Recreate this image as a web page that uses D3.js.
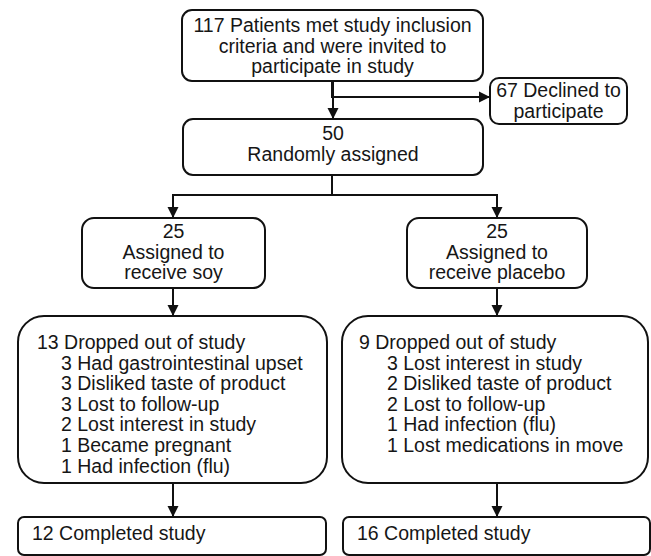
<!DOCTYPE html>
<html>
<head>
<meta charset="utf-8">
<script src="https://cdn.jsdelivr.net/npm/d3@7"></script>
<style>
  body { margin: 0; background: #fff; }
  svg text { font-family: "Liberation Sans", Arial, sans-serif; font-size: 19.5px; fill: #161616; }
</style>
</head>
<body>
<svg id="flow" width="651" height="556"></svg>
<script>
// Flow data: one entry per box
const nodeIds = ["invited", "declined", "random", "soy", "placebo", "dropSoy", "dropPlacebo", "doneSoy", "donePlacebo"];
const nodeCounts = [117, 67, 50, 25, 25, 13, 9, 12, 16];
const nodeLabels = [
  ["Patients met study inclusion", "criteria and were invited to", "participate in study"],
  ["Declined to", "participate"],
  ["", "Randomly assigned"],
  ["", "Assigned to", "receive soy"],
  ["", "Assigned to", "receive placebo"],
  ["Dropped out of study"],
  ["Dropped out of study"],
  ["Completed study"],
  ["Completed study"]
];

// Reasons for dropping out
const soyReasonCounts = [3, 3, 3, 2, 1, 1];
const soyReasons = ["Had gastrointestinal upset", "Disliked taste of product", "Lost to follow-up",
                    "Lost interest in study", "Became pregnant", "Had infection (flu)"];
const placeboReasonCounts = [3, 2, 2, 1, 1];
const placeboReasons = ["Lost interest in study", "Disliked taste of product", "Lost to follow-up",
                        "Had infection (flu)", "Lost medications in move"];

// Links between boxes
const linkFrom = ["invited", "invited", "random", "random", "soy", "placebo", "dropSoy", "dropPlacebo"];
const linkTo   = ["random", "declined", "soy", "placebo", "dropSoy", "dropPlacebo", "doneSoy", "donePlacebo"];

// Layout (page pixels) kept apart from the data
const layout = {
  invited:     {x0: 182, y0: 10,  x1: 483, y1: 81,  r: 10, align: "middle", ty: 32},
  declined:    {x0: 490, y0: 78,  x1: 627, y1: 124, r: 9,  align: "middle", ty: 97},
  random:      {x0: 183, y0: 119, x1: 483, y1: 175, r: 10, align: "middle", ty: 140},
  soy:         {x0: 82,  y0: 218, x1: 265, y1: 288, r: 12, align: "middle", ty: 238},
  placebo:     {x0: 407, y0: 218, x1: 587, y1: 288, r: 12, align: "middle", ty: 238},
  dropSoy:     {x0: 18,  y0: 316, x1: 327, y1: 483, r: 26, align: "start", tx: 37, ty: 349, indent: 24},
  dropPlacebo: {x0: 342, y0: 316, x1: 648, y1: 483, r: 26, align: "start", tx: 359, ty: 349, indent: 28},
  doneSoy:     {x0: 18,  y0: 517, x1: 326, y1: 555, r: 6,  align: "start", tx: 32, ty: 540},
  donePlacebo: {x0: 343, y0: 517, x1: 650, y1: 555, r: 6,  align: "start", tx: 357, ty: 540}
};
const lineH = 20.6;

const svg = d3.select("#flow");
const nodes = nodeIds.map((id, i) => ({id, count: nodeCounts[i], label: nodeLabels[i], box: layout[id]}));
const byId = new Map(nodes.map(n => [n.id, n]));

// build text lines for each box (count goes in front, or alone on the first line)
nodes.forEach(n => {
  const lines = n.label.slice();
  lines[0] = lines[0] === "" ? String(n.count) : n.count + " " + lines[0];
  n.lines = lines.map(t => ({text: t, indent: 0}));
});
byId.get("dropSoy").lines.push(...soyReasons.map((t, i) => ({text: soyReasonCounts[i] + " " + t, indent: 1})));
byId.get("dropPlacebo").lines.push(...placeboReasons.map((t, i) => ({text: placeboReasonCounts[i] + " " + t, indent: 1})));

// connectors
const links = linkFrom.map((f, i) => ({source: byId.get(f), target: byId.get(linkTo[i])}));
const midX = b => (b.x0 + b.x1) / 2;

function linkPoints(l) {
  const s = l.source.box, t = l.target.box;
  if (l.target.id === "declined") {
    const x = midX(s) - 0.5, y = s.y1 + 16;
    return [[x, s.y1], [x, y], [t.x0, y]];
  }
  if (l.source.id === "random") {
    const x = midX(s) - 1, y = s.y1 + 20;
    const tx = l.target.id === "soy" ? 173 : 497;
    return [[x, s.y1], [x, y], [tx, y], [tx, t.y0]];
  }
  const x = l.target.id === "random" ? 333 : (s.x0 < 200 ? 173 : 497);
  return [[x, s.y1], [x, t.y0]];
}

svg.append("g")
  .selectAll("path")
  .data(links)
  .join("path")
  .attr("d", d => d3.line()(linkPoints(d)))
  .attr("fill", "none")
  .attr("stroke", "#111")
  .attr("stroke-width", 2);

// arrow heads
function headPath(l) {
  const pts = linkPoints(l);
  const [px, py] = pts[pts.length - 2];
  const [x, y] = pts[pts.length - 1];
  const a = Math.atan2(y - py, x - px);
  const len = 11, half = 5.5;
  const bx = x - len * Math.cos(a), by = y - len * Math.sin(a);
  const nx = -Math.sin(a), ny = Math.cos(a);
  return `M${x},${y}L${bx + half * nx},${by + half * ny}L${bx - half * nx},${by - half * ny}Z`;
}
svg.append("g")
  .selectAll("path")
  .data(links)
  .join("path")
  .attr("d", headPath)
  .attr("fill", "#111");

// boxes
const g = svg.append("g")
  .selectAll("g")
  .data(nodes)
  .join("g");

g.append("rect")
  .attr("x", d => d.box.x0)
  .attr("y", d => d.box.y0)
  .attr("width", d => d.box.x1 - d.box.x0)
  .attr("height", d => d.box.y1 - d.box.y0)
  .attr("rx", d => d.box.r)
  .attr("fill", "#fff")
  .attr("stroke", "#111")
  .attr("stroke-width", 2);

g.append("text")
  .attr("text-anchor", d => d.box.align)
  .selectAll("tspan")
  .data(d => d.lines.map((ln, i) => ({ln, i, box: d.box})))
  .join("tspan")
  .attr("x", d => d.box.align === "middle" ? midX(d.box) : d.box.tx + d.ln.indent * (d.box.indent || 0))
  .attr("y", d => d.box.ty + d.i * lineH)
  .text(d => d.ln.text);
</script>
</body>
</html>
